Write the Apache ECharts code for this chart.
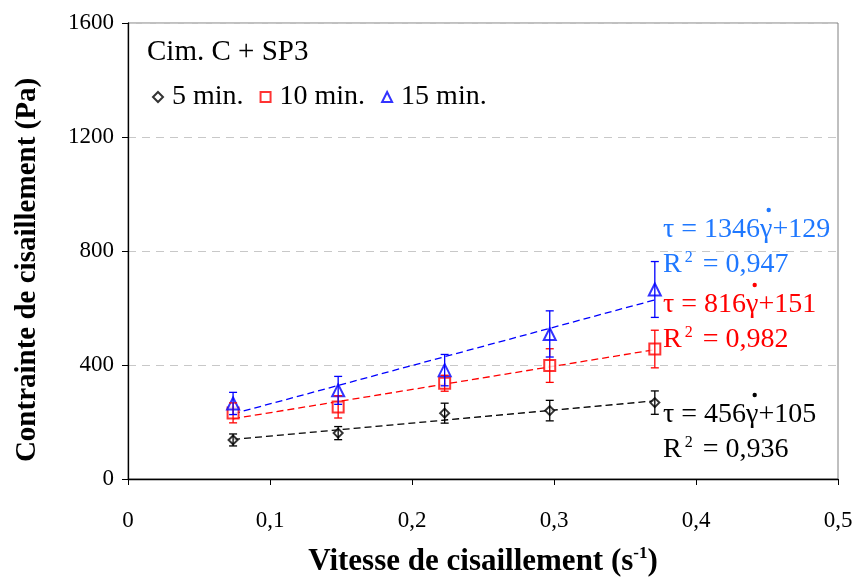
<!DOCTYPE html>
<html><head><meta charset="utf-8">
<script src="https://cdn.jsdelivr.net/npm/echarts@6/dist/echarts.min.js"></script>
<style>html,body{margin:0;padding:0;background:#fff}#c{width:855px;height:577px}</style>
</head><body><div id="c"></div>
<script>
const shearRate = [0.074, 0.148, 0.223, 0.297, 0.371];
const stress5 = [137, 161, 231, 240, 268];
const err5 = [21, 23, 35, 36, 41];
const stress10 = [232, 253, 336, 398, 456];
const err10 = [35, 39, 28, 59, 66];
const stress15 = [265, 311, 382, 509, 665];
const err15 = [39, 49, 55, 81, 98];
const seriesNames = ['5 min.', '10 min.', '15 min.'];
const slopes = [456, 816, 1346];
const intercepts = [105, 151, 129];
const r2 = ['0,936', '0,982', '0,947'];
const yTicks = [0, 400, 800, 1200, 1600];
const xTicks = [0, 0.1, 0.2, 0.3, 0.4, 0.5];

const F = 'Liberation Serif, Times New Roman, serif';
const colors = ['#000000', '#ff0000', '#0000ff'];
const textColors = ['#000000', '#ff0000', '#1f78ff'];
const symbols = ['emptyDiamond', 'emptyRect', 'emptyTriangle'];
const symSizes = [9, 11, 12];
const stresses = [stress5, stress10, stress15];
const errs = [err5, err10, err15];

const chart = echarts.init(document.getElementById('c'));
const series = [];
for (let s = 0; s < 3; s++) {
  const xmin = shearRate[0], xmax = shearRate[shearRate.length - 1];
  series.push({
    type: 'line', name: 'fit' + s, data: [[xmin, slopes[s] * xmin + intercepts[s]], [xmax, slopes[s] * xmax + intercepts[s]]],
    symbol: 'none', silent: true, z: 2,
    lineStyle: { color: colors[s], width: 1.3, type: [7, 4] }
  });
  series.push({
    type: 'scatter', name: seriesNames[s], data: shearRate.map((x, i) => [x, stresses[s][i]]),
    symbol: symbols[s], symbolSize: symSizes[s], z: 3,
    itemStyle: { color: colors[s], borderColor: colors[s], borderWidth: 1.2 }
  });
  series.push({
    type: 'custom', name: 'err' + s, z: 4, silent: true,
    data: shearRate.map((x, i) => [x, stresses[s][i] - errs[s][i], stresses[s][i] + errs[s][i]]),
    renderItem: function (params, api) {
      const lo = api.coord([api.value(0), api.value(1)]);
      const hi = api.coord([api.value(0), api.value(2)]);
      const w = 4;
      const st = { stroke: colors[s], lineWidth: 1.3 };
      return { type: 'group', children: [
        { type: 'line', shape: { x1: lo[0], y1: lo[1], x2: hi[0], y2: hi[1] }, style: st },
        { type: 'line', shape: { x1: lo[0] - w, y1: lo[1], x2: lo[0] + w, y2: lo[1] }, style: st },
        { type: 'line', shape: { x1: hi[0] - w, y1: hi[1], x2: hi[0] + w, y2: hi[1] }, style: st }
      ]};
    }
  });
}

const EQ_SIZE = 28;
const eqBlocks = [
  { s: 2, x: 663, y: 216 },
  { s: 1, x: 663, y: 291 },
  { s: 0, x: 663, y: 401 }
];
const mctx = document.createElement('canvas').getContext('2d');
mctx.font = EQ_SIZE + 'px ' + F;
const graphics = [];
eqBlocks.forEach(b => {
  const c = textColors[b.s];
  const pre = 'τ = ' + slopes[b.s];
  graphics.push({
    type: 'text', left: b.x, top: b.y, z: 10,
    style: {
      text: '{a|' + pre + 'γ+' + intercepts[b.s] + '}\n{a|R}{sup|2}{a| = ' + r2[b.s] + '}',
      fill: c,
      rich: {
        a: { fontFamily: F, fontSize: EQ_SIZE, fill: c, lineHeight: 35 },
        sup: { fontFamily: F, fontSize: 16, fill: c, lineHeight: 35, padding: [0, 3, 14, 3] }
      }
    }
  });
  const wPre = mctx.measureText(pre).width;
  const wG = mctx.measureText('γ').width;
  graphics.push({
    type: 'circle', z: 10,
    shape: { cx: b.x + wPre + wG * 0.7, cy: b.y - 6, r: 2.2 },
    style: { fill: c }
  });
});

chart.setOption({
  animation: false,
  grid: { left: 128, right: 17, top: 23, bottom: 98, show: true, borderColor: '#808080', borderWidth: 1,
          containLabel: false, outerBoundsMode: 'none' },
  title: { text: 'Cim. C + SP3', left: 142, top: 33, textStyle: { fontFamily: F, fontSize: 29, fontWeight: 'normal', color: '#000' } },
  legend: {
    data: seriesNames.map((n, i) => ({ name: n, icon: symbols[i] })),
    left: 147, top: 78, itemWidth: 10, itemHeight: 10, itemGap: 16,
    textStyle: { fontFamily: F, fontSize: 28, color: '#000', padding: [0, 0, 0, 4] }
  },
  xAxis: {
    type: 'value', min: 0, max: 0.5, interval: 0.1,
    name: 'Vitesse de cisaillement (s{sup|-1}{b|)}', nameLocation: 'middle', nameGap: 66,
    nameTextStyle: { fontFamily: F, fontSize: 31, fontWeight: 'bold', color: '#000',
      rich: { sup: { fontFamily: F, fontSize: 17, fontWeight: 'bold', padding: [0, 0, 16, 0] }, b: { fontFamily: F, fontSize: 31, fontWeight: 'bold' } } },
    axisLine: { lineStyle: { color: '#000', width: 1.3 } },
    axisTick: { inside: false, length: 6, lineStyle: { color: '#000' } },
    axisLabel: { fontFamily: F, fontSize: 23, color: '#000', margin: 30, formatter: v => String(+v.toFixed(1)).replace('.', ',') },
    splitLine: { show: false }
  },
  yAxis: {
    type: 'value', min: 0, max: 1600, interval: 400,
    name: 'Contrainte de cisaillement (Pa)', nameLocation: 'middle', nameGap: 86,
    nameTextStyle: { fontFamily: F, fontSize: 29, fontWeight: 'bold', color: '#000', padding: [0, 38, 0, 0] },
    axisLine: { show: true, lineStyle: { color: '#000', width: 1.3 } },
    axisTick: { show: true, inside: false, length: 6, lineStyle: { color: '#000' } },
    axisLabel: { fontFamily: F, fontSize: 23, color: '#000', margin: 14, formatter: v => String(v) },
    splitLine: { show: true, lineStyle: { color: '#c8c8c8', type: [8, 6], width: 1 } }
  },
  series: series,
  graphic: graphics
});
</script></body></html>
